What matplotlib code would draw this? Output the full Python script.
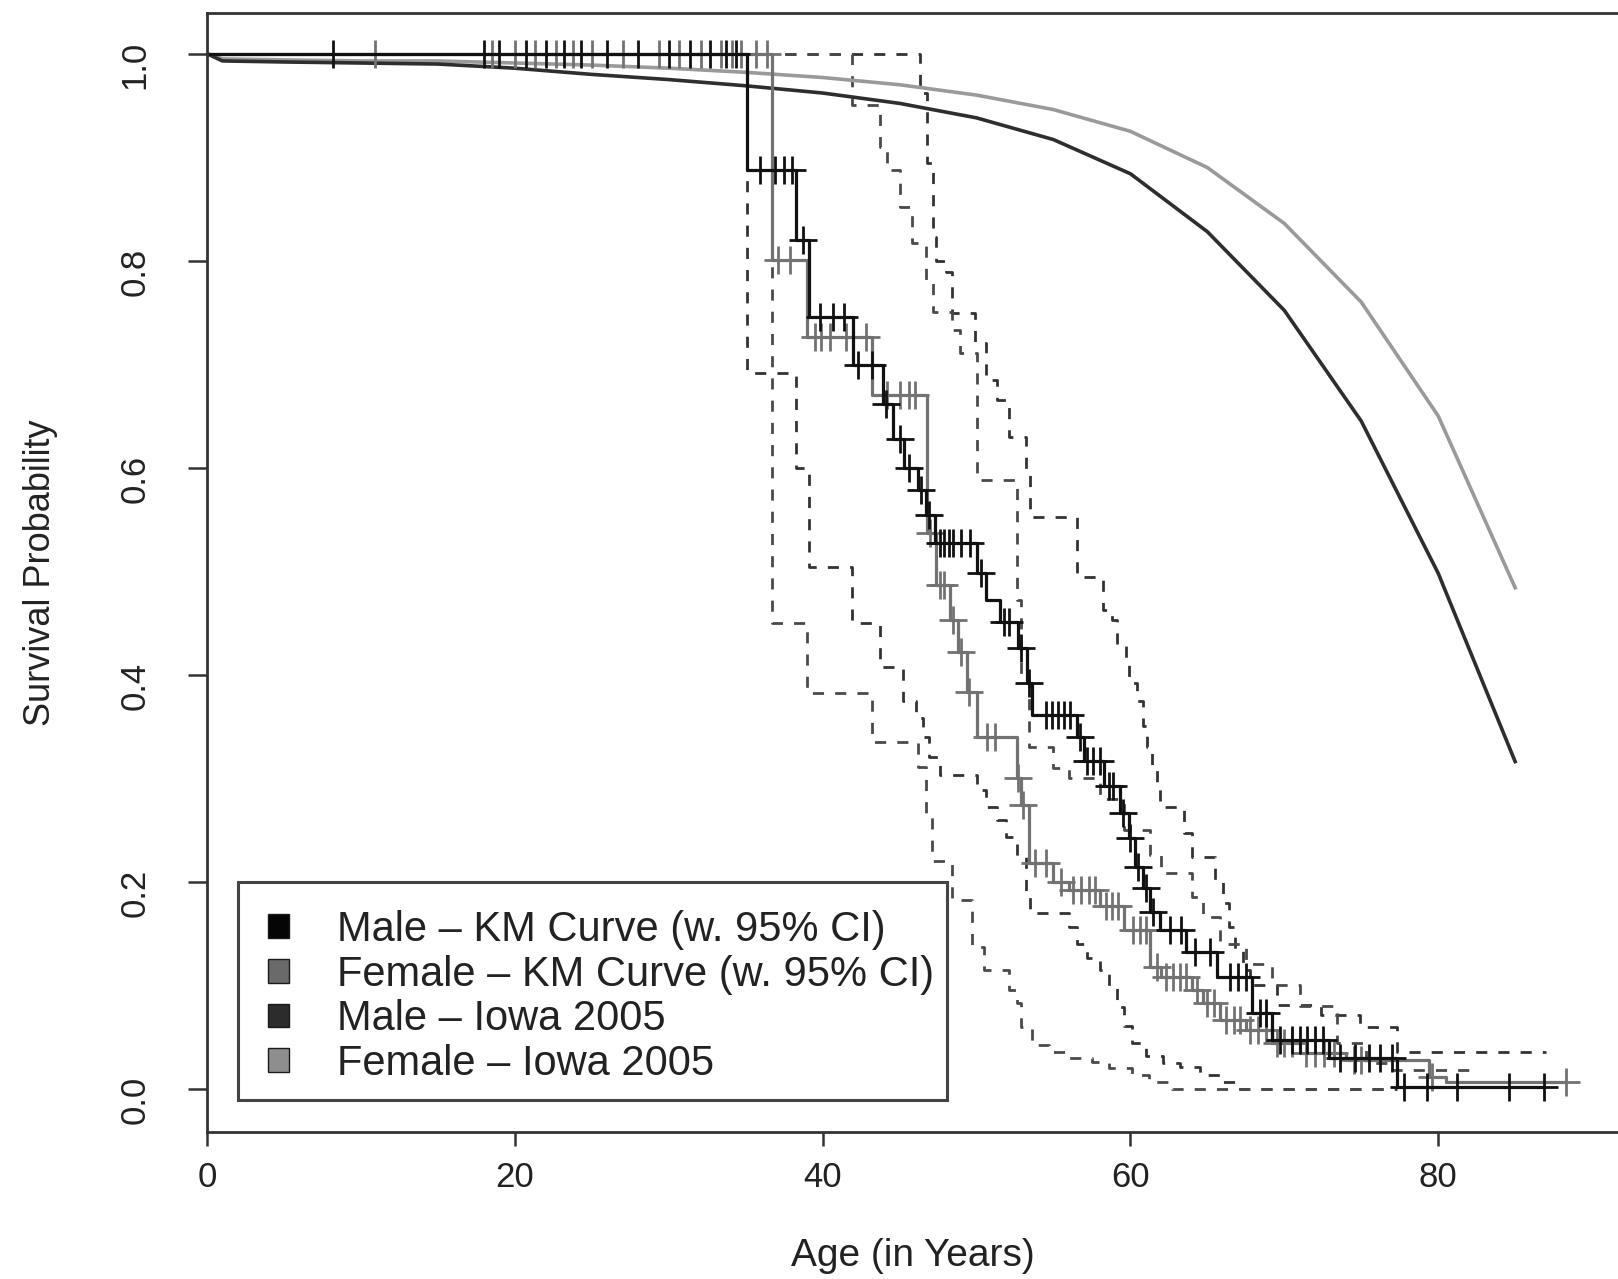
import numpy as np
import matplotlib.pyplot as plt
from matplotlib.patches import Patch, Rectangle

plt.rcParams['font.family'] = ['Liberation Sans', 'DejaVu Sans']

# Iowa 2005 life tables (survival from birth)
iowa_age = [0, 1, 5, 10, 15, 20, 25, 30, 35, 40, 45, 50, 55, 60, 65, 70, 75, 80, 85]
iowa_male = [1.0, 0.993, 0.992, 0.991, 0.990, 0.986, 0.980, 0.975, 0.969, 0.962,
             0.952, 0.938, 0.917, 0.884, 0.828, 0.752, 0.645, 0.498, 0.316]
iowa_female = [1.0, 0.995, 0.994, 0.993, 0.993, 0.991, 0.989, 0.986, 0.982, 0.977,
               0.970, 0.960, 0.946, 0.925, 0.890, 0.836, 0.760, 0.650, 0.484]

# Kaplan-Meier, males
male_t = [35.1, 38.3, 39.1, 42.0, 43.9, 44.6, 45.3, 46.2, 46.7, 47.3, 50.0, 50.6, 51.5,
          52.7, 53.3, 53.6, 56.5, 57.0, 58.3, 59.3, 59.9, 60.3, 60.8, 61.3, 61.9, 63.6,
          65.6, 67.9, 69.2, 72.9, 77.3]
male_s = [0.888, 0.820, 0.746, 0.699, 0.662, 0.628, 0.600, 0.578, 0.554, 0.527, 0.498,
          0.472, 0.451, 0.426, 0.392, 0.361, 0.340, 0.317, 0.292, 0.266, 0.242, 0.214,
          0.194, 0.171, 0.153, 0.132, 0.108, 0.073, 0.047, 0.030, 0.002]
male_end = 86.9
male_cens = [8.2, 18.0, 19.0, 20.7, 22.0, 23.2, 24.3, 26.0, 28.0, 30.0, 31.4, 32.7, 33.7,
             34.4, 35.9, 36.9, 37.5, 38.0, 38.7, 39.8, 40.7, 41.4, 42.3, 43.2, 44.1,
             45.0, 45.6, 46.4, 46.9, 47.6, 47.9, 48.2, 48.5, 49.0, 49.6, 50.3, 51.8,
             52.1, 52.9, 53.4, 54.5, 54.9, 55.3, 55.7, 56.1, 56.7, 57.2, 57.6, 58.0,
             58.6, 58.9, 59.5, 60.0, 60.5, 61.0, 61.5, 62.6, 63.3, 64.2, 65.2, 66.5,
             67.0, 67.5, 68.4, 68.8, 69.7, 70.5, 71.0, 71.5, 72.0, 72.5, 73.6, 74.6,
             75.5, 76.2, 77.0, 77.8, 79.3, 81.2, 84.6, 86.9]

# Kaplan-Meier, females
female_t = [36.7, 39.0, 43.2, 46.8, 47.4, 48.3, 48.8, 49.4, 50.0, 52.6, 52.9, 53.4, 55.0,
            56.0, 58.0, 59.6, 61.3, 62.0, 64.0, 64.7, 65.8, 67.5, 69.2, 71.0, 74.0, 79.4,
            80.5]
female_s = [0.801, 0.726, 0.670, 0.537, 0.487, 0.453, 0.422, 0.383, 0.340, 0.300, 0.274,
            0.218, 0.200, 0.192, 0.176, 0.153, 0.118, 0.108, 0.095, 0.083, 0.066, 0.057,
            0.044, 0.034, 0.028, 0.011, 0.006]
female_end = 88.3
female_cens = [10.9, 18.5, 20.0, 21.3, 22.7, 23.8, 25.0, 27.0, 29.4, 30.7, 32.1, 33.4,
               34.1, 34.7, 35.7, 36.4, 37.1, 37.9, 39.5, 39.9, 40.5, 41.5, 42.8, 44.2,
               45.0, 45.6, 46.0, 47.0, 47.6, 47.9, 48.5, 49.0, 49.5, 50.7, 51.2, 52.7,
               53.0, 53.8, 54.5, 55.5, 56.3, 56.8, 57.3, 57.7, 58.4, 58.8, 59.2, 60.2,
               60.6, 61.0, 61.7, 62.3, 62.8, 63.2, 63.6, 64.3, 65.0, 65.4, 66.2, 66.7,
               67.1, 67.8, 68.3, 68.8, 69.5, 70.0, 70.5, 71.4, 72.0, 72.6, 73.2, 74.5,
               75.0, 79.6, 88.3]

# 95% confidence limits
male_lo_t = [35.1, 38.3, 39.1, 41.9, 43.7, 45.2, 46.1, 46.5, 46.9, 47.6, 50.0, 50.6, 51.3,
             51.9, 52.6, 53.2, 53.5, 56.0, 56.5, 57.2, 58.0, 58.6, 59.1, 59.6, 60.1, 61.0,
             62.1, 63.2, 64.5, 65.8, 67.1]
male_lo_s = [0.691, 0.600, 0.504, 0.450, 0.407, 0.375, 0.358, 0.340, 0.320, 0.303, 0.289,
             0.272, 0.260, 0.243, 0.224, 0.185, 0.170, 0.156, 0.140, 0.126, 0.115, 0.098,
             0.079, 0.061, 0.044, 0.032, 0.025, 0.021, 0.013, 0.006, 0.0]
male_lo_end = 77.3
male_hi_t = [46.3, 46.8, 47.2, 47.4, 48.0, 48.4, 49.9, 50.6, 51.3, 52.1, 53.2, 53.5, 56.5,
             58.2, 58.8, 59.1, 59.7, 59.9, 60.4, 60.8, 61.1, 61.4, 61.7, 61.9, 63.5, 64.0,
             65.5, 66.0, 66.4, 66.8, 67.3, 67.8, 69.5, 72.4, 74.9, 77.3]
male_hi_s = [0.962, 0.894, 0.823, 0.800, 0.789, 0.749, 0.720, 0.685, 0.665, 0.630, 0.594,
             0.552, 0.494, 0.462, 0.453, 0.430, 0.414, 0.392, 0.375, 0.350, 0.330, 0.311,
             0.292, 0.272, 0.247, 0.224, 0.200, 0.179, 0.156, 0.134, 0.115, 0.100, 0.081,
             0.071, 0.060, 0.035]
male_hi_end = 87.0
female_lo_t = [36.7, 39.0, 43.2, 46.2, 46.7, 47.1, 48.4, 49.7, 50.5, 52.1, 52.6, 52.9, 53.6,
               54.7, 56.0, 57.5, 58.6, 60.1, 61.2, 62.7]
female_lo_s = [0.450, 0.382, 0.335, 0.311, 0.262, 0.220, 0.182, 0.137, 0.115, 0.095, 0.083,
               0.060, 0.042, 0.035, 0.030, 0.026, 0.020, 0.013, 0.006, 0.0]
female_lo_end = 77.0
female_hi_t = [41.9, 43.7, 44.2, 45.0, 45.8, 46.7, 47.2, 48.4, 48.9, 50.0, 52.6, 52.9, 53.4,
               55.0, 56.0, 58.0, 59.6, 61.3, 62.0, 64.0, 64.7, 65.8, 67.5, 69.2, 71.0, 73.4,
               75.3, 77.0]
female_hi_s = [0.950, 0.910, 0.888, 0.852, 0.817, 0.781, 0.750, 0.733, 0.711, 0.588, 0.472,
               0.400, 0.330, 0.310, 0.300, 0.280, 0.250, 0.226, 0.208, 0.185, 0.166, 0.140,
               0.120, 0.100, 0.080, 0.044, 0.025, 0.018]
female_hi_end = 82.2

legend_labels = ["Male \u2013 KM Curve (w. 95% CI)", "Female \u2013 KM Curve (w. 95% CI)",
                 "Male \u2013 Iowa 2005", "Female \u2013 Iowa 2005"]
legend_colors = ["#050505", "#6a6a6a", "#2c2c2c", "#8e8e8e"]


def step_xy(t, s, end):
    x = np.r_[0.0, t, end]
    y = np.r_[1.0, s, s[-1]]
    return x, y


def surv_at(t, s, times):
    idx = np.searchsorted(t, times, side="right")
    return np.r_[1.0, s][idx]


fig = plt.figure(figsize=(16.18, 12.79), dpi=100)
ax = fig.add_axes([207 / 1618, 147 / 1279, 1413 / 1618, 1119.5 / 1279])

dash = (0, (4.0, 4.0))
for t, s, end, col in [(male_lo_t, male_lo_s, male_lo_end, "#333333"),
                       (male_hi_t, male_hi_s, male_hi_end, "#333333"),
                       (female_lo_t, female_lo_s, female_lo_end, "#4a4a4a"),
                       (female_hi_t, female_hi_s, female_hi_end, "#4a4a4a")]:
    x, y = step_xy(t, s, end)
    ax.step(x, y, where="post", color=col, lw=2.0, ls=dash)

ax.plot(iowa_age, iowa_female, color="#9a9a9a", lw=2.6)
ax.plot(iowa_age, iowa_male, color="#2e2e2e", lw=2.6)

x, y = step_xy(female_t, female_s, female_end)
ax.step(x, y, where="post", color="#727272", lw=2.3)
ax.plot(female_cens, surv_at(female_t, female_s, female_cens), ls="none",
        marker="+", ms=20, mew=2.0, color="#727272")

x, y = step_xy(male_t, male_s, male_end)
ax.step(x, y, where="post", color="#111111", lw=2.3)
ax.plot(male_cens, surv_at(male_t, male_s, male_cens), ls="none",
        marker="+", ms=20, mew=2.0, color="#111111")

ax.set_xlim(0, 1413 / 15.39)
ax.set_ylim(-0.0419, 1.0398)
ax.set_xticks([0, 20, 40, 60, 80])
ax.set_yticks([0.0, 0.2, 0.4, 0.6, 0.8, 1.0])
ax.set_yticklabels(["0.0", "0.2", "0.4", "0.6", "0.8", "1.0"])
ax.tick_params(direction="out", width=1.8, color="#333333",
               labelsize=25, labelcolor="#222222")
ax.tick_params(axis="x", length=10, pad=11)
ax.tick_params(axis="y", length=14, pad=26, labelrotation=90)
for sp in ax.spines.values():
    sp.set_linewidth(2.0)
    sp.set_color("#333333")

ax.set_xlabel("Age (in Years)", fontsize=28, color="#222222")
ax.xaxis.set_label_coords((913 - 207) / 1413, -(1238 - 1132) / 1119.5)
ax.set_ylabel("Survival Probability", fontsize=26, color="#222222")
ax.yaxis.set_label_coords(-(207 - 58) / 1413, 0.5)

# legend
fig.patches.append(Rectangle((238 / 1618, 179 / 1279), 709 / 1618, 218 / 1279,
                             transform=fig.transFigure, fill=False,
                             edgecolor="#444444", lw=2.2))
handles = [Patch(facecolor=c, edgecolor="#1a1a1a", lw=1.0) for c in legend_colors]
ax.legend(handles, legend_labels, loc="upper left",
          bbox_to_anchor=(268 / 1618, 1 - 910 / 1279), bbox_transform=fig.transFigure,
          frameon=False, fontsize=30, handlelength=0.5, handleheight=0.5,
          handletextpad=1.15, labelspacing=0.11, borderpad=0, borderaxespad=0,
          labelcolor="#222222")

fig.savefig("out.png", dpi=100)
